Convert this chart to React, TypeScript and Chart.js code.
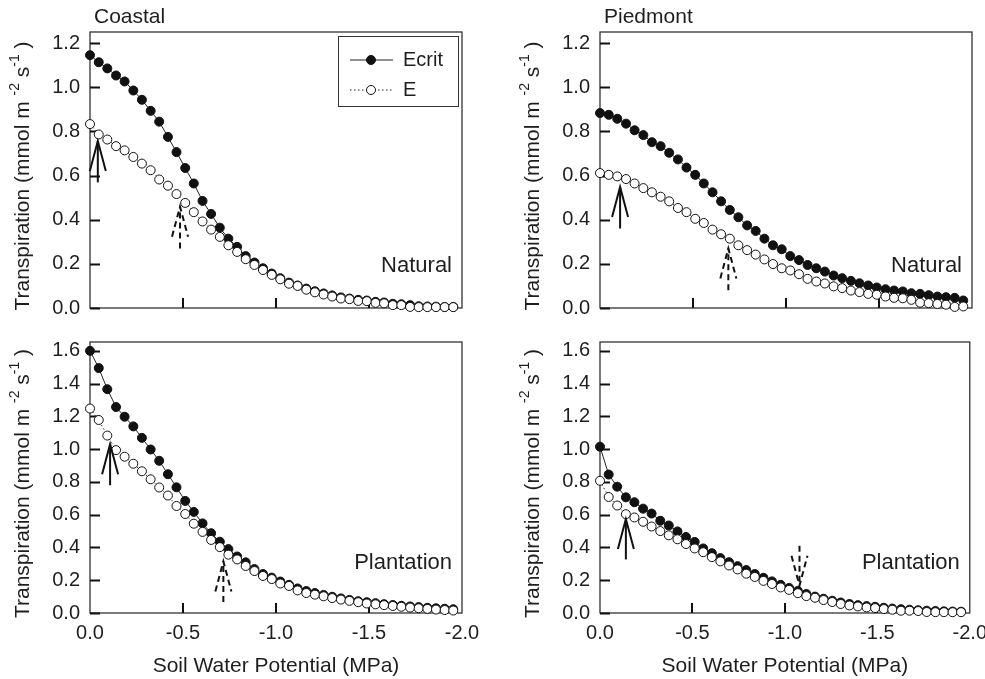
import React, { useEffect, useRef } from "react";
import { Chart, registerables } from "chart.js";

Chart.register(...registerables);

// ---------- data ----------
const PSI = [
  0, -0.047, -0.093, -0.14, -0.186, -0.233, -0.279, -0.326, -0.372, -0.419,
  -0.465, -0.512, -0.558, -0.605, -0.651, -0.698, -0.744, -0.791, -0.837, -0.884,
  -0.93, -0.977, -1.023, -1.07, -1.116, -1.163, -1.209, -1.256, -1.302, -1.349,
  -1.395, -1.442, -1.488, -1.535, -1.581, -1.628, -1.674, -1.721, -1.767, -1.814,
  -1.86, -1.907, -1.953,
];

const COASTAL_NATURAL_ECRIT = [
  1.145, 1.113, 1.085, 1.053, 1.026, 0.985, 0.943, 0.893, 0.844, 0.775,
  0.706, 0.634, 0.564, 0.485, 0.426, 0.364, 0.314, 0.277, 0.235, 0.206,
  0.18, 0.156, 0.135, 0.115, 0.102, 0.088, 0.076, 0.066, 0.057, 0.048,
  0.043, 0.037, 0.034, 0.028, 0.025, 0.019, 0.017, 0.013, 0.008, 0.007,
  0.006, 0.005, 0.005,
];
const COASTAL_NATURAL_E = [
  0.833, 0.786, 0.763, 0.733, 0.714, 0.684, 0.654, 0.624, 0.582, 0.554,
  0.516, 0.476, 0.434, 0.392, 0.355, 0.322, 0.284, 0.254, 0.221, 0.195,
  0.172, 0.15, 0.13, 0.11, 0.1, 0.083, 0.071, 0.061, 0.052, 0.043,
  0.04, 0.032, 0.031, 0.023, 0.021, 0.013, 0.013, 0.005, 0.004, 0.004,
  0.004, 0.004, 0.004,
];
const PIEDMONT_NATURAL_ECRIT = [
  0.883, 0.875, 0.857, 0.835, 0.805, 0.783, 0.751, 0.733, 0.703, 0.673,
  0.636, 0.603, 0.564, 0.524, 0.483, 0.444, 0.411, 0.374, 0.349, 0.314,
  0.284, 0.266, 0.235, 0.217, 0.195, 0.18, 0.165, 0.147, 0.135, 0.123,
  0.112, 0.102, 0.093, 0.085, 0.079, 0.075, 0.067, 0.064, 0.058, 0.052,
  0.049, 0.046, 0.034,
];
const PIEDMONT_NATURAL_E = [
  0.611, 0.603, 0.596, 0.584, 0.564, 0.543, 0.524, 0.504, 0.483, 0.453,
  0.434, 0.404, 0.385, 0.355, 0.334, 0.314, 0.284, 0.262, 0.242, 0.22,
  0.199, 0.18, 0.17, 0.153, 0.132, 0.12, 0.111, 0.098, 0.09, 0.079,
  0.072, 0.064, 0.06, 0.052, 0.046, 0.044, 0.037, 0.024, 0.022, 0.018,
  0.015, 0.005, 0.007,
];
const COASTAL_PLANTATION_ECRIT = [
  1.6, 1.495, 1.366, 1.257, 1.198, 1.139, 1.069, 0.998, 0.929, 0.847,
  0.767, 0.684, 0.617, 0.547, 0.487, 0.435, 0.39, 0.345, 0.309, 0.268,
  0.238, 0.216, 0.192, 0.172, 0.15, 0.134, 0.122, 0.11, 0.099, 0.089,
  0.08, 0.072, 0.066, 0.06, 0.054, 0.049, 0.044, 0.04, 0.036, 0.032,
  0.029, 0.026, 0.023,
];
const COASTAL_PLANTATION_E = [
  1.248, 1.178, 1.083, 0.994, 0.954, 0.911, 0.865, 0.816, 0.766, 0.717,
  0.653, 0.604, 0.545, 0.495, 0.446, 0.402, 0.356, 0.327, 0.287, 0.256,
  0.226, 0.207, 0.18, 0.165, 0.138, 0.122, 0.112, 0.102, 0.091, 0.082,
  0.074, 0.066, 0.058, 0.053, 0.048, 0.043, 0.038, 0.033, 0.029, 0.025,
  0.021, 0.018, 0.015,
];
const PIEDMONT_PLANTATION_ECRIT = [
  1.015, 0.845, 0.771, 0.706, 0.676, 0.637, 0.607, 0.563, 0.534, 0.498,
  0.464, 0.434, 0.394, 0.365, 0.335, 0.31, 0.286, 0.262, 0.238, 0.215,
  0.193, 0.172, 0.153, 0.135, 0.116, 0.1, 0.087, 0.075, 0.064, 0.055,
  0.048, 0.042, 0.038, 0.032, 0.027, 0.023, 0.02, 0.017, 0.014, 0.012,
  0.01, 0.009, 0.008,
];
const PIEDMONT_PLANTATION_E = [
  0.807, 0.708, 0.656, 0.603, 0.583, 0.557, 0.528, 0.5, 0.474, 0.45,
  0.421, 0.394, 0.371, 0.341, 0.315, 0.29, 0.266, 0.24, 0.22, 0.196,
  0.177, 0.156, 0.141, 0.121, 0.103, 0.093, 0.079, 0.067, 0.055, 0.046,
  0.04, 0.034, 0.03, 0.024, 0.02, 0.014, 0.014, 0.012, 0.006, 0.005,
  0.005, 0.005, 0.005,
];

// arrows: x position, tip value, tail value (data units)
type Arrow = { x: number; tip: number; tail: number; dashed: boolean };
const ARROWS_COASTAL_NATURAL: Arrow[] = [
  { x: -0.042, tip: 0.756, tail: 0.569, dashed: false },
  { x: -0.484, tip: 0.459, tail: 0.27, dashed: true },
];
const ARROWS_PIEDMONT_NATURAL: Arrow[] = [
  { x: -0.108, tip: 0.548, tail: 0.36, dashed: false },
  { x: -0.69, tip: 0.27, tail: 0.08, dashed: true },
];
const ARROWS_COASTAL_PLANTATION: Arrow[] = [
  { x: -0.108, tip: 1.03, tail: 0.78, dashed: false },
  { x: -0.717, tip: 0.315, tail: 0.067, dashed: true },
];
const ARROWS_PIEDMONT_PLANTATION: Arrow[] = [
  { x: -0.14, tip: 0.573, tail: 0.327, dashed: false },
  { x: -1.079, tip: 0.167, tail: 0.41, dashed: true },
];

const X_TICK_MARKS = [-0.5, -1.0, -1.5];
const SERIES_NAMES = ["Ecrit", "E"];
const X_TITLE = "Soil Water Potential (MPa)";
const Y_TITLE_PARTS = [
  { t: "Transpiration (mmol m ", sup: false },
  { t: "-2", sup: true },
  { t: " s", sup: false },
  { t: "-1", sup: true },
  { t: " )", sup: false },
];

// ---------- styling ----------
const FONT = "'Liberation Sans', Arial, Helvetica, sans-serif";
const INK = "#1e1e1e";

type PanelCfg = {
  key: string;
  region: string;
  site: string;
  ecrit: number[];
  e: number[];
  yMax: number;
  arrows: Arrow[];
  legend: boolean;
  xLabels: boolean;
  box: { x: number; y: number; w: number; h: number };
  area: { L: number; T: number; R: number; B: number };
  siteOffset: number;
};

const PANELS: PanelCfg[] = [
  {
    key: "tl", region: "Coastal", site: "Natural",
    ecrit: COASTAL_NATURAL_ECRIT, e: COASTAL_NATURAL_E, yMax: 1.25,
    arrows: ARROWS_COASTAL_NATURAL, legend: true, xLabels: false,
    box: { x: 0, y: 0, w: 490, h: 330 }, area: { L: 90, T: 32, R: 462, B: 310 }, siteOffset: 42,
  },
  {
    key: "tr", region: "Piedmont", site: "Natural",
    ecrit: PIEDMONT_NATURAL_ECRIT, e: PIEDMONT_NATURAL_E, yMax: 1.25,
    arrows: ARROWS_PIEDMONT_NATURAL, legend: false, xLabels: false,
    box: { x: 490, y: 0, w: 505, h: 330 }, area: { L: 600, T: 32, R: 972, B: 310 }, siteOffset: 42,
  },
  {
    key: "bl", region: "", site: "Plantation",
    ecrit: COASTAL_PLANTATION_ECRIT, e: COASTAL_PLANTATION_E, yMax: 1.654,
    arrows: ARROWS_COASTAL_PLANTATION, legend: false, xLabels: true,
    box: { x: 0, y: 320, w: 490, h: 359 }, area: { L: 90, T: 335, R: 462, B: 613 }, siteOffset: 50,
  },
  {
    key: "br", region: "", site: "Plantation",
    ecrit: PIEDMONT_PLANTATION_ECRIT, e: PIEDMONT_PLANTATION_E, yMax: 1.654,
    arrows: ARROWS_PIEDMONT_PLANTATION, legend: false, xLabels: true,
    box: { x: 490, y: 320, w: 505, h: 359 }, area: { L: 600, T: 335, R: 972, B: 613 }, siteOffset: 50,
  },
];

function drawMarker(ctx: CanvasRenderingContext2D, x: number, y: number, filled: boolean) {
  ctx.beginPath();
  ctx.arc(x, y, 4.5, 0, Math.PI * 2);
  ctx.fillStyle = filled ? "#111" : "#fff";
  ctx.fill();
  ctx.lineWidth = 1;
  ctx.strokeStyle = "#111";
  ctx.stroke();
}

function makePlugin(cfg: PanelCfg) {
  return {
    id: "panelDecor_" + cfg.key,
    beforeDatasetsDraw(chart: any) {
      const { ctx, chartArea: a, scales } = chart;
      const ys = scales.y;
      const xs = scales.x;
      ctx.save();
      // frame
      ctx.strokeStyle = "#333";
      ctx.lineWidth = 1.3;
      ctx.strokeRect(a.left, a.top, a.right - a.left, a.bottom - a.top);
      // inward ticks
      ctx.strokeStyle = "#111";
      ctx.lineWidth = 2;
      ctx.beginPath();
      for (const t of ys.ticks) {
        const y = Math.round(ys.getPixelForValue(t.value)) + 0.5;
        ctx.moveTo(a.left, y);
        ctx.lineTo(a.left + 10, y);
      }
      for (const v of X_TICK_MARKS) {
        const x = Math.round(xs.getPixelForValue(v));
        ctx.moveTo(x, a.bottom);
        ctx.lineTo(x, a.bottom - 10);
      }
      ctx.stroke();
      ctx.restore();
    },
    afterDatasetsDraw(chart: any) {
      const { ctx, chartArea: a, scales } = chart;
      const xs = scales.x;
      const ys = scales.y;
      ctx.save();
      // arrows
      for (const ar of cfg.arrows) {
        const x = xs.getPixelForValue(ar.x);
        const yTip = ys.getPixelForValue(ar.tip);
        const yTail = ys.getPixelForValue(ar.tail);
        const dir = yTail > yTip ? 1 : -1;
        ctx.strokeStyle = "#111";
        ctx.lineWidth = 2;
        ctx.setLineDash(ar.dashed ? [6, 4] : []);
        ctx.beginPath();
        ctx.moveTo(x, yTail);
        ctx.lineTo(x, yTip);
        ctx.stroke();
        ctx.beginPath();
        ctx.moveTo(x - 8, yTip + dir * 30);
        ctx.lineTo(x, yTip);
        ctx.lineTo(x + 8, yTip + dir * 30);
        ctx.stroke();
      }
      ctx.setLineDash([]);
      // site label
      ctx.fillStyle = INK;
      ctx.font = `22px ${FONT}`;
      ctx.textAlign = "right";
      ctx.textBaseline = "middle";
      ctx.fillText(cfg.site, a.right - 10, a.bottom - cfg.siteOffset);
      // region title
      if (cfg.region) {
        ctx.font = `21px ${FONT}`;
        ctx.textAlign = "left";
        ctx.fillText(cfg.region, a.left + 4, a.top - 15);
      }
      // y title with superscripts
      ctx.save();
      ctx.translate(a.left - 67, (a.top + a.bottom) / 2 + 6);
      ctx.rotate(-Math.PI / 2);
      let total = 0;
      for (const p of Y_TITLE_PARTS) {
        ctx.font = p.sup ? `14px ${FONT}` : `21px ${FONT}`;
        total += ctx.measureText(p.t).width;
      }
      let tx = -total / 2;
      ctx.textAlign = "left";
      ctx.textBaseline = "middle";
      for (const p of Y_TITLE_PARTS) {
        ctx.font = p.sup ? `14px ${FONT}` : `21px ${FONT}`;
        ctx.fillText(p.t, tx, p.sup ? -8 : 0);
        tx += ctx.measureText(p.t).width;
      }
      ctx.restore();
      // legend
      if (cfg.legend) {
        const bx = a.right - 124;
        const by = a.top + 4;
        ctx.strokeStyle = "#333";
        ctx.lineWidth = 1;
        ctx.strokeRect(bx + 0.5, by + 0.5, 120, 70);
        const rows = [
          { y: by + 24, filled: true, dash: [] as number[] },
          { y: by + 54, filled: false, dash: [1.5, 2.5] },
        ];
        rows.forEach((r, i) => {
          ctx.strokeStyle = "#222";
          ctx.lineWidth = 1;
          ctx.setLineDash(r.dash);
          ctx.beginPath();
          ctx.moveTo(bx + 12, r.y);
          ctx.lineTo(bx + 55, r.y);
          ctx.stroke();
          ctx.setLineDash([]);
          drawMarker(ctx, bx + 33, r.y, r.filled);
          ctx.fillStyle = INK;
          ctx.font = `20px ${FONT}`;
          ctx.textAlign = "left";
          ctx.textBaseline = "middle";
          ctx.fillText(SERIES_NAMES[i], bx + 65, r.y);
        });
      }
      ctx.restore();
    },
  };
}

function Panel({ cfg }: { cfg: PanelCfg }) {
  const ref = useRef<HTMLCanvasElement | null>(null);
  useEffect(() => {
    if (!ref.current) return;
    const { box, area } = cfg;
    const toPts = (vals: number[]) => vals.map((v, i) => ({ x: PSI[i], y: v }));
    const tickFont = { family: FONT, size: 20 };
    const chart = new Chart(ref.current, {
      type: "scatter",
      data: {
        datasets: [
          {
            label: SERIES_NAMES[0],
            data: toPts(cfg.ecrit),
            showLine: true,
            order: 2,
            borderColor: "#222",
            borderWidth: 1,
            pointRadius: 4.5,
            pointBorderWidth: 1,
            pointBackgroundColor: "#111",
            pointBorderColor: "#111",
            clip: false,
          } as any,
          {
            label: SERIES_NAMES[1],
            data: toPts(cfg.e),
            showLine: true,
            order: 1,
            borderColor: "#333",
            borderWidth: 1,
            borderDash: [1.5, 2.5],
            pointRadius: 4.5,
            pointBorderWidth: 1,
            pointBackgroundColor: "#fff",
            pointBorderColor: "#111",
            clip: false,
          } as any,
        ],
      },
      options: {
        responsive: false,
        animation: false,
        devicePixelRatio: 1,
        events: [],
        layout: {
          padding: {
            left: 0,
            top: area.T - box.y,
            right: box.x + box.w - area.R,
            bottom: 0,
          },
        },
        plugins: {
          legend: { display: false },
          tooltip: { enabled: false },
          title: { display: false },
        },
        scales: {
          x: {
            type: "linear",
            min: -2,
            max: 0,
            reverse: true,
            grid: { display: false, drawTicks: false },
            border: { display: false },
            ticks: {
              display: cfg.xLabels,
              stepSize: 0.5,
              autoSkip: false,
              maxRotation: 0,
              padding: 8,
              color: INK,
              font: tickFont,
              callback: (v: any) => Number(v).toFixed(1),
            },
            title: {
              display: cfg.xLabels,
              text: X_TITLE,
              color: INK,
              font: { family: FONT, size: 21 },
              padding: { top: 0, bottom: 0 },
            },
            afterFit: (s: any) => {
              s.height = box.y + box.h - area.B;
            },
          },
          y: {
            type: "linear",
            min: 0,
            max: cfg.yMax,
            grid: { display: false, drawTicks: false },
            border: { display: false },
            ticks: {
              stepSize: 0.2,
              includeBounds: false,
              padding: 10,
              color: INK,
              font: tickFont,
              callback: (v: any) => Number(v).toFixed(1),
            },
            afterFit: (s: any) => {
              s.width = area.L - box.x;
            },
          },
        },
      } as any,
      plugins: [makePlugin(cfg)],
    });
    return () => chart.destroy();
  }, [cfg]);
  return (
    <canvas
      ref={ref}
      width={cfg.box.w}
      height={cfg.box.h}
      style={{
        position: "absolute",
        left: cfg.box.x,
        top: cfg.box.y,
        width: cfg.box.w,
        height: cfg.box.h,
      }}
    />
  );
}

export default function App() {
  return (
    <div
      style={{
        position: "fixed",
        left: 0,
        top: 0,
        width: 985,
        height: 679,
        overflow: "hidden",
        background: "#fff",
      }}
    >
      {PANELS.map((p) => (
        <Panel key={p.key} cfg={p} />
      ))}
    </div>
  );
}
